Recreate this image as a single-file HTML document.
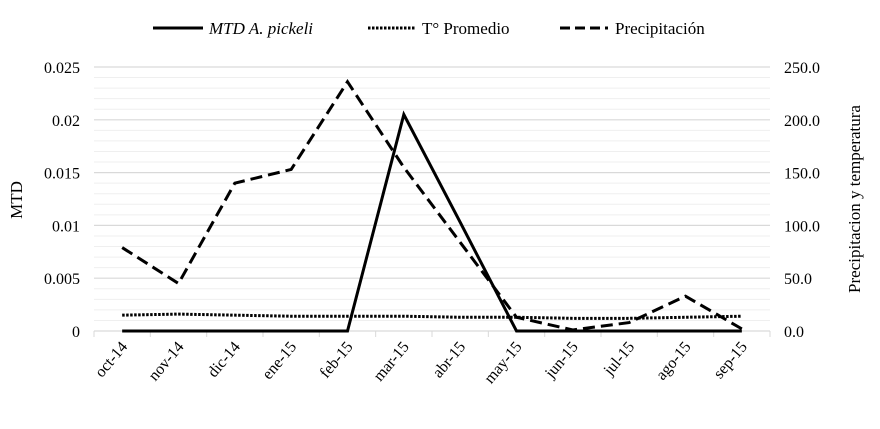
<!DOCTYPE html>
<html><head><meta charset="utf-8"><style>
body{margin:0;background:#fff;}
svg{display:block;font-family:"Liberation Serif",serif;}
</style></head><body>
<svg id="chart" width="880" height="429">
<g id="grid"></g>
<g id="axes"></g>
<g id="series"></g>
<g id="legend">
  <line x1="153" y1="28" x2="203" y2="28" stroke="#000" stroke-width="3"/>
  <text x="209" y="34" font-size="17" font-style="italic">MTD A. pickeli</text>
  <line x1="368" y1="28" x2="415" y2="28" stroke="#000" stroke-width="3" stroke-dasharray="2.5,1.5"/>
  <text x="422" y="34" font-size="17">T° Promedio</text>
  <line x1="560" y1="28" x2="608" y2="28" stroke="#000" stroke-width="3" stroke-dasharray="10,5"/>
  <text x="615" y="34" font-size="17">Precipitación</text>
</g>
<text x="0" y="0" font-size="17" transform="translate(22,200) rotate(-90)" text-anchor="middle">MTD</text>
<text x="0" y="0" font-size="17" transform="translate(860,199) rotate(-90)" text-anchor="middle">Precipitacion y temperatura</text>
</svg>
<script>
const categories=["oct-14","nov-14","dic-14","ene-15","feb-15","mar-15","abr-15","may-15","jun-15","jul-15","ago-15","sep-15"];
const mtd=[0,0,0,0,0,0.0205,0.0103,0,0,0,0,0];
const temp=[15,16,15,14,14,14,13,13,12,12,13,14];
const precip=[79,45,140,153,236,155,84,13,1,8,33,2];
const leftTicks=["0","0.005","0.01","0.015","0.02","0.025"];
const rightTicks=["0.0","50.0","100.0","150.0","200.0","250.0"];
const X0=94,X1=770,Y0=331,Y1=67;
const bw=(X1-X0)/categories.length;
const xs=i=>X0+bw*(i+0.5);
const yL=v=>Y0-(v/0.025)*(Y0-Y1);
const yR=v=>Y0-(v/250)*(Y0-Y1);
const NS="http://www.w3.org/2000/svg";
function mk(tag,attrs,parent){const e=document.createElementNS(NS,tag);for(const k in attrs)e.setAttribute(k,attrs[k]);document.getElementById(parent).appendChild(e);return e;}
for(let v=0;v<=250;v+=10){
  const major=v%50===0;
  const l=mk("line",{x1:X0,x2:X1,y1:yR(v),y2:yR(v),stroke:major?"#d9d9d9":"#efefef","stroke-width":major?1.2:1},"grid");
  
  
}
leftTicks.forEach((t,i)=>{
  const e=mk("text",{x:80,y:yL(i*0.005)+6,"text-anchor":"end","font-size":"16"},"axes");e.textContent=t;
  
  
});
rightTicks.forEach((t,i)=>{
  const e=mk("text",{x:784,y:yR(i*50)+6,"font-size":"16"},"axes");e.textContent=t;
  
  
});
for(let i=0;i<=categories.length;i++){
  const x=X0+bw*i;
  const t=mk("line",{x1:x,x2:x,y1:Y0,y2:Y0+6,stroke:"#d9d9d9"},"axes");
  
  
}
categories.forEach((c,i)=>{
  const e=mk("text",{x:0,y:0,"text-anchor":"end","font-size":"16",transform:`translate(${xs(i)+6},${Y0+16}) rotate(-50)`},"axes");e.textContent=c;
  
  
});
function path(vals,f,dash,name){
  const d=vals.map((v,i)=>(i?"L":"M")+xs(i)+","+f(v)).join(" ");
  const p=mk("path",{d:d,fill:"none",stroke:"#000","stroke-width":3,"stroke-dasharray":dash},"series");
  
  
}
path(temp,yR,"2.5,1.5","line-temperatura");
path(precip,yR,"12,6","line-precipitacion");
path(mtd,yL,"none","line-mtd");
</script>
</body></html>
